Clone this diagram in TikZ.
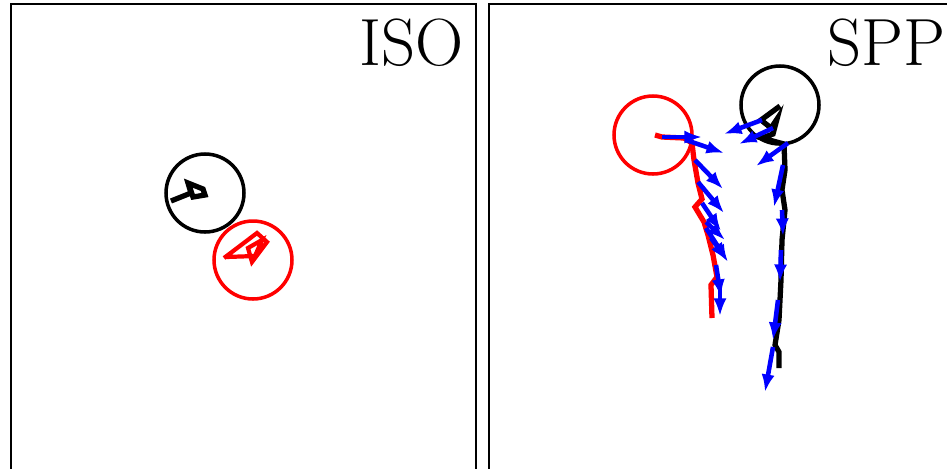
\documentclass[tikz,border=0pt]{standalone}
\usepackage{fontspec}
\usepackage{tikz}
\usetikzlibrary{arrows.meta}
\definecolor{velblue}{RGB}{0,0,255}

\begin{document}
\begin{tikzpicture}[
    x=0.02cm, y=-0.02cm,
    panel/.style={draw,line width=1.1pt},
    cell/.style={line width=2pt},
    track/.style={line width=3pt,line join=miter},
    vel/.style={velblue,line width=2.6pt,-{Latex[length=10pt,width=7.5pt]}},
    tag/.style={anchor=north east,inner sep=0pt,font=\fontsize{38}{38}\selectfont}
  ]
  \clip (0,0) rectangle (947,468);
  % the two panels
  \draw[panel] (11,4) rectangle (476,530);
  \draw[panel] (489,4) rectangle (1000,530);
  \node[tag] (iso) at (464,18) {ISO};
  \node[tag] (spp) at (946,18) {SPP};

  % ISO: cells and their tracks
  \draw[cell] (205,193) circle (39);
  \draw[cell,red] (253,260) circle (39);
  \draw[track] (171,201) -- (191,193) -- (188,183) -- (203,189) -- (205,195) -- (193,197) -- (190,188);
  \draw[track,red,line width=2.4pt] (224,258) -- (257,233) -- (267,242) -- (252,262) -- (248,248) -- (262,240) -- (255,256) -- (226,257);

  % SPP: cells, tracks and velocities
  \draw[cell,red] (653,135) circle (39);
  \draw[cell] (780,105) circle (39);
  \draw[track,red] (655,135) -- (662,137) -- (684,138) -- (692,143) -- (694,160) -- (698,183) -- (702,199)
    -- (695,207) -- (704,222) -- (708,235) -- (713,255) -- (717,277) -- (711,285) -- (712,318);
  \draw[track] (780,106) -- (761,120) -- (771,128) -- (777,119) -- (773,134) -- (762,138) -- (784,144)
    -- (785,170) -- (782,190) -- (785,210) -- (782,240) -- (781,280) -- (779,320) -- (775,345) -- (779,352) -- (779,368);
  \foreach \xa/\ya/\xb/\yb in {662/137/702/137, 686/140/724/153, 695/160/723/189, 698/182/724/213,
      702/203/721/231, 706/222/725/240, 706/228/728/262, 711/238/727/260,
      716/265/721/297, 720/285/720/316,
      762/120/724/134, 773/128/739/144, 788/143/756/166, 783/165/774/207,
      782/210/783/236, 781/250/780/282, 778/300/773/340, 773/347/765/392}
    \draw[vel] (\xa,\ya) -- (\xb,\yb);
\end{tikzpicture}
\end{document}
